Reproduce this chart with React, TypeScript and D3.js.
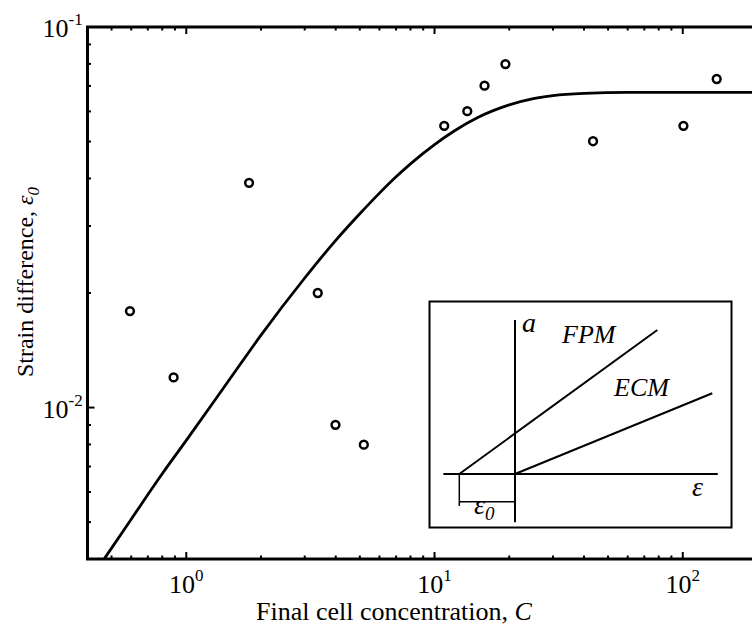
import React from "react";
import * as d3 from "d3";

// measured points (final cell concentration vs strain difference)
const DATA_C = [0.593, 0.889, 1.79, 3.385, 3.99, 5.19, 10.94, 13.55, 15.9, 19.3, 43.5, 100.6, 137];
const DATA_EPS = [0.01793, 0.012, 0.03895, 0.02, 0.00901, 0.00799, 0.055, 0.0601, 0.0701, 0.0799, 0.0501, 0.055, 0.073];

// fitted curve
const CURVE_C = [0.467, 0.6, 0.8, 1, 1.5, 2, 3, 4, 5, 6, 7, 8, 10, 12, 15, 20, 25, 30, 40, 60, 100, 210];
const CURVE_EPS = [0.004, 0.00509, 0.0067, 0.0082, 0.0119, 0.0155, 0.0219, 0.0275, 0.0323, 0.0366, 0.0404, 0.0437, 0.0491, 0.0533, 0.0579, 0.0624, 0.0648, 0.066, 0.0669, 0.0673, 0.0673, 0.0673];

const X_MAJOR = [1, 10, 100];
const X_MAJOR_EXP = ["0", "1", "2"];
const X_MINOR = [0.5, 0.6, 0.7, 0.8, 0.9, 2, 3, 4, 5, 6, 7, 8, 9, 20, 30, 40, 50, 60, 70, 80, 90];
const Y_MAJOR = [0.1, 0.01];
const Y_MAJOR_EXP = ["-1", "-2"];
const Y_MINOR = [0.005, 0.006, 0.007, 0.008, 0.009, 0.02, 0.03, 0.04, 0.05, 0.06, 0.07, 0.08, 0.09];

// inset schematic, in units of eps0 (origin at the a-axis)
const INSET_FPM = [[-1, 0], [2.555, 2.585]];
const INSET_ECM = [[0, 0], [3.542, 1.449]];
const INSET_EPS_AXIS = [[-1.286, 0], [3.64, 0]];
const INSET_A_AXIS = [[0, -0.867], [0, 2.765]];
const INSET_BRACKET = [[-1, 0], [-1, -0.575]];
const INSET_BRACKET_H = [[-1, -0.497], [0, -0.497]];

const FONT = "Liberation Serif, Times New Roman, DejaVu Serif, serif";
const W = 752, H = 631;

export default function App() {
  const x = d3.scaleLog().domain([0.4, 200]).range([87.5, 757.5]);
  const y = d3.scaleLog().domain([0.004, 0.1]).range([559, 27]);
  const [x0, x1] = x.range();
  const [y0, y1] = y.range();

  const curve = d3.line<number>()
    .x((_, i) => x(CURVE_C[i]))
    .y((d) => y(d))
    .curve(d3.curveMonotoneX)(CURVE_EPS);

  // inset scales
  const ix = d3.scaleLinear().domain([0, 1]).range([515, 570.7]);
  const iy = d3.scaleLinear().domain([0, 1]).range([474, 418.3]);
  const seg = (s: number[][]) => d3.line()(s.map(([a, b]) => [ix(a), iy(b)] as [number, number]));

  const txt = { fontFamily: FONT };

  return (
    <svg width={W} height={H} style={{ position: "absolute", left: 0, top: 0, background: "#fff", fontFamily: FONT }}>
      <defs>
        <clipPath id="plot">
          <rect x={x0} y={y1} width={x1 - x0} height={y0 - y1} />
        </clipPath>
      </defs>
      <rect width={W} height={H} fill="#fff" />

      {/* curve */}
      <path d={curve || ""} fill="none" stroke="#000" strokeWidth={2.8} clipPath="url(#plot)" />

      {/* points */}
      {DATA_C.map((c, i) => (
        <circle key={i} cx={x(c)} cy={y(DATA_EPS[i])} r={3.9} fill="none" stroke="#000" strokeWidth={2.5} />
      ))}

      {/* ticks */}
      <g stroke="#000" strokeWidth={2}>
        {X_MAJOR.map((v) => (
          <g key={"xm" + v}>
            <line x1={x(v)} x2={x(v)} y1={y0} y2={y0 - 7} />
            <line x1={x(v)} x2={x(v)} y1={y1} y2={y1 + 7} />
          </g>
        ))}
        {X_MINOR.map((v) => (
          <g key={"xn" + v}>
            <line x1={x(v)} x2={x(v)} y1={y0} y2={y0 - 3.5} />
            <line x1={x(v)} x2={x(v)} y1={y1} y2={y1 + 3.5} />
          </g>
        ))}
        {Y_MAJOR.map((v) => (
          <line key={"ym" + v} x1={x0} x2={x0 + 7} y1={y(v)} y2={y(v)} />
        ))}
        {Y_MINOR.map((v) => (
          <line key={"yn" + v} x1={x0} x2={x0 + 3.5} y1={y(v)} y2={y(v)} />
        ))}
      </g>

      {/* frame */}
      <rect x={x0} y={y1} width={x1 - x0} height={y0 - y1} fill="none" stroke="#000" strokeWidth={3} />

      {/* tick labels */}
      {X_MAJOR.map((v, i) => (
        <text key={"xl" + v} x={x(v)} y={593} textAnchor="middle" fontSize={26} style={txt}>
          10<tspan fontSize={17} dy={-12}>{X_MAJOR_EXP[i]}</tspan>
        </text>
      ))}
      {Y_MAJOR.map((v, i) => (
        <text key={"yl" + v} x={x0 - 45} y={y(v) + 10} fontSize={26} style={txt}>
          10<tspan fontSize={17} dy={-12}>{Y_MAJOR_EXP[i]}</tspan>
        </text>
      ))}

      {/* axis titles */}
      <text x={394} y={620} textAnchor="middle" fontSize={26} style={txt}>
        Final cell concentration, <tspan fontStyle="italic">C</tspan>
      </text>
      <text transform={`translate(33,282) rotate(-90)`} textAnchor="middle" fontSize={24} style={txt}>
        Strain difference, <tspan fontStyle="italic">ε</tspan>
        <tspan fontStyle="italic" fontSize={17} dy={6}>0</tspan>
      </text>

      {/* inset */}
      <g>
        <rect x={429.5} y={301.5} width={302} height={226} fill="#fff" stroke="#000" strokeWidth={2} />
        <g fill="none" stroke="#000" strokeWidth={2}>
          <path d={seg(INSET_EPS_AXIS) || ""} />
          <path d={seg(INSET_A_AXIS) || ""} />
          <path d={seg(INSET_FPM) || ""} />
          <path d={seg(INSET_ECM) || ""} />
          <path d={seg(INSET_BRACKET) || ""} strokeWidth={1.5} />
          <path d={seg(INSET_BRACKET_H) || ""} strokeWidth={1.5} />
        </g>
        <g fontStyle="italic" fontSize={26} style={txt}>
          <text x={522} y={332} fontSize={28}>a</text>
          <text x={562} y={343}>FPM</text>
          <text x={614} y={396}>ECM</text>
          <text x={692} y={496} fontSize={28}>ε</text>
          <text x={474} y={514} fontSize={28}>ε<tspan fontSize={19} dy={6}>0</tspan></text>
        </g>
      </g>
    </svg>
  );
}
